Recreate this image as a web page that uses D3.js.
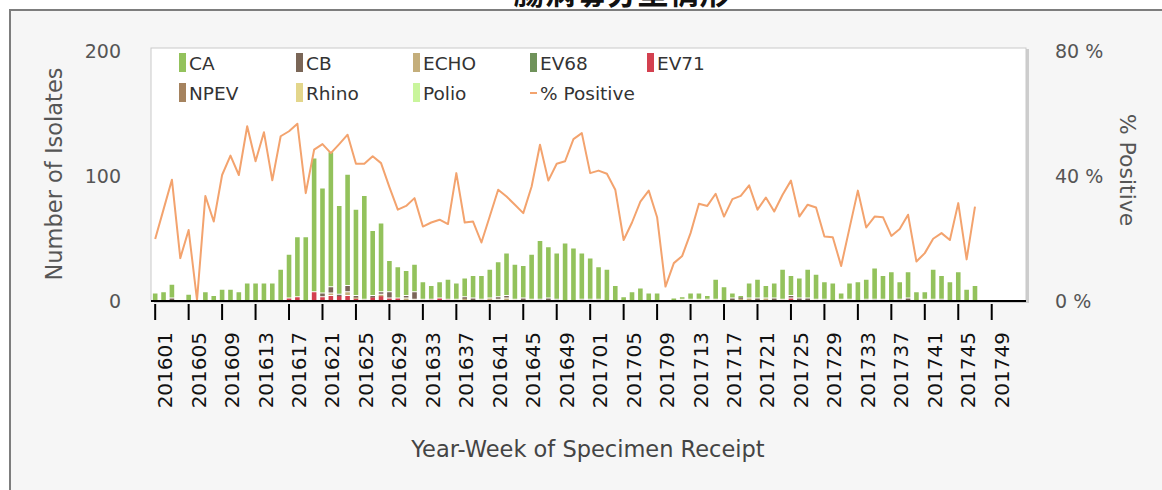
<!DOCTYPE html>
<html>
<head>
<meta charset="utf-8">
<script src="https://cdn.jsdelivr.net/npm/d3@7"></script>
<style>
  body { margin: 0; background: #fff; }
  svg { display: block; font-family: "DejaVu Sans", sans-serif; }
</style>
</head>
<body>
<div id="chart"></div>
<script>
// weeks 2016-01 .. 2017-52
const categories = [
  "201601","201602","201603","201604","201605","201606","201607","201608","201609","201610",
  "201611","201612","201613","201614","201615","201616","201617","201618","201619","201620",
  "201621","201622","201623","201624","201625","201626","201627","201628","201629","201630",
  "201631","201632","201633","201634","201635","201636","201637","201638","201639","201640",
  "201641","201642","201643","201644","201645","201646","201647","201648","201649","201650",
  "201651","201652","201701","201702","201703","201704","201705","201706","201707","201708",
  "201709","201710","201711","201712","201713","201714","201715","201716","201717","201718",
  "201719","201720","201721","201722","201723","201724","201725","201726","201727","201728",
  "201729","201730","201731","201732","201733","201734","201735","201736","201737","201738",
  "201739","201740","201741","201742","201743","201744","201745","201746","201747","201748",
  "201749","201750","201751","201752"
];

const caValues = [
  6,7,11,0,5,0,7,4,9,9, 7,14,14,14,14,25,35,48,51,107,
  84,108,71,89,69,83,52,55,25,25, 20,22,14,11,13,16,13,15,18,19,
  23,28,34,28,26,36,47,41,37,46, 42,37,33,26,25,12,3,7,10,6,
  6,0,1,2,5,5,3,16,11,4, 1,12,15,10,12,24,16,16,23,20,
  14,14,5,13,15,16,25,19,23,14, 21,7,6,24,19,15,23,9,12,0,
  0,0,0,0
];
const cbValues = [
  0,0,2,0,0,0,0,0,0,0, 0,0,0,0,0,0,0,0,0,0,
  3,5,1,5,1,0,1,2,5,0, 2,6,0,0,0,0,0,1,1,0,
  0,2,2,0,1,0,1,1,1,0, 0,1,1,0,0,0,0,0,0,0,
  0,0,0,0,0,0,0,0,0,1, 1,0,1,0,1,0,2,1,1,0,
  1,0,0,0,0,0,1,0,0,0, 2,0,0,0,1,0,0,0,0,0,
  0,0,0,0
];
const echoValues = [
  0,0,0,0,0,0,0,0,0,0, 0,0,0,0,0,0,0,0,0,0,
  0,2,0,3,1,0,0,1,0,0, 1,1,1,0,0,0,1,2,1,0,
  1,1,2,1,0,1,0,1,0,0, 0,0,0,0,0,0,0,0,0,0,
  0,0,1,0,1,0,0,1,0,0, 1,1,1,1,1,1,0,1,1,1,
  0,0,0,1,0,0,0,1,0,0, 0,0,0,1,0,0,0,0,0,0,
  0,0,0,0
];
const ev68Values = [
  0,0,0,0,0,0,0,0,0,0, 0,0,0,0,0,0,0,0,0,0,
  0,0,0,0,0,0,0,0,0,0, 0,0,0,0,0,0,0,0,0,0,
  0,0,0,0,0,0,0,0,0,0, 0,0,0,0,0,0,0,0,0,0,
  0,0,0,0,0,0,0,0,0,0, 0,0,0,0,0,0,0,0,0,0,
  0,0,0,0,0,0,0,0,0,0, 0,0,0,0,0,0,0,0,0,0,
  0,0,0,0
];
const ev71Values = [
  0,0,0,0,0,0,0,0,0,0, 0,0,0,0,0,0,2,3,0,7,
  3,4,4,4,2,0,3,4,2,2, 1,0,0,1,2,1,0,0,0,0,
  1,0,0,0,0,0,0,0,0,0, 0,0,0,0,0,0,0,0,0,0,
  0,0,0,0,0,0,0,0,0,0, 0,0,0,0,0,0,2,0,0,0,
  0,0,0,0,0,0,0,0,0,0, 0,0,0,0,0,0,0,0,0,0,
  0,0,0,0
];
const npevValues = [
  0,0,0,0,0,0,0,0,0,0, 0,0,0,0,0,0,0,0,0,0,
  0,0,0,0,0,1,0,0,0,0, 0,0,0,0,0,0,0,0,0,1,
  0,0,0,0,1,0,0,0,0,0, 0,0,0,1,0,0,0,0,0,0,
  0,0,0,0,0,0,1,0,0,0, 0,0,0,0,0,0,0,0,0,0,
  0,0,0,0,0,1,0,0,0,1, 0,0,0,0,0,0,0,0,0,0,
  0,0,0,0
];
const rhinoValues = [
  0,0,0,0,0,0,0,0,0,0, 0,0,0,0,0,0,0,0,0,0,
  0,0,0,0,0,0,0,0,0,0, 0,0,0,0,0,0,0,0,0,0,
  0,0,0,0,0,0,0,0,0,0, 0,0,0,0,0,0,0,0,0,0,
  0,0,0,1,0,1,0,0,0,1, 1,1,0,1,0,0,0,0,0,0,
  0,0,1,0,0,0,0,0,0,0, 0,0,1,0,0,0,0,0,0,0,
  0,0,0,0
];
const polioValues = [
  0,0,0,0,0,0,0,0,0,0, 0,0,0,0,0,0,0,0,0,0,
  0,0,0,0,0,0,0,0,0,0, 0,0,0,0,0,0,0,0,0,0,
  0,0,0,0,0,0,0,0,0,0, 0,0,0,0,0,0,0,0,0,0,
  0,0,0,0,0,0,0,0,0,0, 0,0,0,0,0,0,0,0,0,0,
  0,0,0,0,0,0,0,0,0,0, 0,0,0,0,0,0,0,0,0,0,
  0,0,0,0
];
// % positive, weeks 201601 .. 201747
const pctPositive = [
  19.5,29,38.5,13.4,22.4,0,33.3,25.1,40,46.2, 40,55.6,44.4,53.7,38.3,52.4,54,56.4,34.2,48.1,
  49.9,47,49.9,52.9,43.6,43.6,46,43.8,36.1,28.9, 30.1,32.6,23.5,24.8,25.7,24.3,40.6,24.8,25.1,18.4,
  26.8,35.3,33.1,30.5,27.8,36.3,49.7,38.2,43.6,44.4, 51.5,53.4,40.6,41.4,40.4,35.3,19.2,24.8,31.5,35,
  26.5,4.3,11.8,14.1,21.4,30.8,30.1,34,26.7,32.3, 33.3,36.7,28.9,32.8,28.3,33.7,38.2,26.7,30.5,29.6,
  20.3,20.1,10.9,23,35,23.2,26.7,26.5,20.5,22.7, 27.3,12.3,15,19.6,21.4,19.2,31,13,29.9
];

const seriesNames = ["CA", "CB", "ECHO", "EV68", "EV71", "NPEV", "Rhino", "Polio"];
const seriesColors = ["#93c25c", "#7a6657", "#c4ae7b", "#6f925a", "#d3404f", "#a5835f", "#e3d68b", "#c9f59c"];
const lineName = "% Positive";
const lineColor = "#f3a36e";
const leftTicks = [0, 100, 200];
const rightTicks = [0, 40, 80];
const tickEvery = 4;

const width = 1162;
const height = 490;
const plot = {left: 151, right: 1026, top: 48, bottom: 301};

const svg = d3.select("#chart").append("svg")
  .attr("width", width)
  .attr("height", height);

// outer frame + title (cut off at the top of the picture, as in the source)
svg.append("rect")
  .attr("x", 10).attr("y", 10)
  .attr("width", width - 9).attr("height", height)
  .attr("fill", "#f6f6f6")
  .attr("stroke", "#7d7d7d")
  .attr("stroke-width", 2);

svg.append("text")
  .attr("x", 622).attr("y", 4)
  .attr("text-anchor", "middle")
  .attr("font-family", "'Noto Sans CJK TC', sans-serif")
  .attr("font-weight", "bold")
  .attr("font-size", 31)
  .attr("fill", "#111")
  .text("腸病毒分型情形");

// plot box with shadow
svg.append("rect")
  .attr("x", plot.left + 3).attr("y", plot.top + 1)
  .attr("width", plot.right - plot.left).attr("height", plot.bottom - plot.top + 1)
  .attr("fill", "#cdcdcd");
svg.append("rect")
  .attr("x", plot.left).attr("y", plot.top)
  .attr("width", plot.right - plot.left).attr("height", plot.bottom - plot.top)
  .attr("fill", "#fff")
  .attr("stroke", "#c9c9c9");

const x = d3.scaleBand()
  .domain(categories)
  .range([plot.left, 1021])
  .paddingInner(0.45)
  .paddingOuter(0.225);

const y = d3.scaleLinear()
  .domain([0, 200])
  .range([300, 50]);

const yPct = d3.scaleLinear()
  .domain([0, 80])
  .range([300, 50]);

// stacked bars: first legend series sits on top
const valuesByName = {
  CA: caValues, CB: cbValues, ECHO: echoValues, EV68: ev68Values,
  EV71: ev71Values, NPEV: npevValues, Rhino: rhinoValues, Polio: polioValues
};
const table = categories.map((week, i) => {
  const row = {week};
  seriesNames.forEach(k => row[k] = valuesByName[k][i]);
  return row;
});
const color = d3.scaleOrdinal(seriesNames, seriesColors);
const stacked = d3.stack().keys(seriesNames.slice().reverse())(table);

svg.append("g")
  .selectAll("g")
  .data(stacked)
  .join("g")
    .attr("fill", d => color(d.key))
  .selectAll("rect")
  .data(d => d.filter(p => p[1] > p[0]))
  .join("rect")
    .attr("x", d => x(d.data.week))
    .attr("width", x.bandwidth())
    .attr("y", d => y(d[1]) + 1)
    .attr("height", d => Math.max(y(d[0]) - y(d[1]) - 1, 1.5));

// % positive line
const line = d3.line()
  .x((d, i) => x(categories[i]) + x.bandwidth() / 2)
  .y(d => yPct(d));

svg.append("path")
  .datum(pctPositive)
  .attr("fill", "none")
  .attr("stroke", lineColor)
  .attr("stroke-width", 2)
  .attr("stroke-linejoin", "round")
  .attr("d", line);

// x axis
svg.append("line")
  .attr("x1", plot.left).attr("x2", plot.right)
  .attr("y1", plot.bottom).attr("y2", plot.bottom)
  .attr("stroke", "#000")
  .attr("stroke-width", 2);

svg.append("g")
  .attr("transform", `translate(0,${plot.bottom + 3})`)
  .call(d3.axisBottom(x)
    .tickValues(categories.filter((d, i) => i % tickEvery === 0))
    .tickSize(16))
  .call(g => g.select(".domain").remove())
  .call(g => g.selectAll(".tick line").attr("stroke", "#000").attr("stroke-width", 2))
  .call(g => g.selectAll(".tick text")
    .attr("transform", "rotate(-90)")
    .attr("text-anchor", "end")
    .attr("x", -28)
    .attr("y", 17)
    .attr("dy", 0)
    .attr("fill", "#111")
    .attr("font-family", "'DejaVu Sans', sans-serif")
    .attr("font-size", 20));

// left and right axes
svg.append("g")
  .attr("transform", "translate(121,0)")
  .call(d3.axisLeft(y).tickValues(leftTicks).tickSize(0).tickPadding(0))
  .call(g => g.select(".domain").remove())
  .call(g => g.selectAll(".tick text")
    .attr("dy", "0.42em")
    .attr("fill", "#555")
    .attr("font-family", "'DejaVu Sans', sans-serif")
    .attr("font-size", 19));

svg.append("g")
  .attr("transform", "translate(1055,0)")
  .call(d3.axisRight(yPct).tickValues(rightTicks).tickSize(0).tickPadding(0)
    .tickFormat(d => d + " %"))
  .call(g => g.select(".domain").remove())
  .call(g => g.selectAll(".tick text")
    .attr("dy", "0.42em")
    .attr("fill", "#555")
    .attr("font-family", "'DejaVu Sans', sans-serif")
    .attr("font-size", 19));

// axis titles
svg.append("text")
  .attr("transform", "translate(62,174) rotate(-90)")
  .attr("text-anchor", "middle")
  .attr("font-size", 22.5)
  .attr("fill", "#555")
  .text("Number of Isolates");

svg.append("text")
  .attr("transform", "translate(1120,170) rotate(90)")
  .attr("text-anchor", "middle")
  .attr("font-size", 22)
  .attr("fill", "#555")
  .text("% Positive");

svg.append("text")
  .attr("x", 588).attr("y", 457)
  .attr("text-anchor", "middle")
  .attr("font-size", 22.5)
  .attr("fill", "#444")
  .text("Year-Week of Specimen Receipt");

// legend
const legendItems = seriesNames.concat([lineName]);
const legend = svg.append("g")
  .selectAll("g")
  .data(legendItems)
  .join("g")
    .attr("transform", (d, i) => `translate(${179 + 117 * (i % 5)},${53 + 30 * Math.floor(i / 5)})`);

legend.filter(d => d !== lineName).append("rect")
  .attr("width", 7)
  .attr("height", 19)
  .attr("fill", d => color(d));

legend.filter(d => d === lineName).append("line")
  .attr("x1", 0).attr("x2", 7)
  .attr("y1", 10).attr("y2", 10)
  .attr("stroke", lineColor)
  .attr("stroke-width", 2);

legend.append("text")
  .attr("x", 10)
  .attr("y", 17)
  .attr("font-size", 18.5)
  .attr("fill", "#333")
  .text(d => d);
</script>
</body>
</html>
